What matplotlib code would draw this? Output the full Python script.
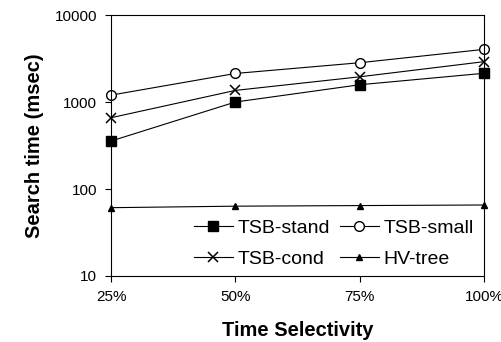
import matplotlib
matplotlib.use('Agg')
import matplotlib.pyplot as plt
import matplotlib.ticker as ticker

plt.rcParams['font.family'] = ['Liberation Sans', 'DejaVu Sans']

selectivity = ['25%', '50%', '75%', '100%']
tsb_stand = [356, 1000, 1580, 2140]
tsb_small = [1200, 2130, 2830, 4030]
tsb_cond = [660, 1360, 1950, 2910]
hv_tree = [61, 63.5, 64.5, 65.5]

fig = plt.figure(figsize=(5.01, 3.42), dpi=100)
ax = fig.add_axes([0.2216, 0.193, 0.7444, 0.763])

x = range(len(selectivity))
ax.plot(x, tsb_stand, color='black', linewidth=0.8, marker='s', markersize=7,
        markerfacecolor='black', label='TSB-stand', clip_on=False)
ax.plot(x, tsb_small, color='black', linewidth=0.8, marker='o', markersize=7,
        markerfacecolor='white', label='TSB-small', clip_on=False)
ax.plot(x, tsb_cond, color='black', linewidth=0.8, marker='x', markersize=7,
        markeredgewidth=1.1, label='TSB-cond', clip_on=False)
ax.plot(x, hv_tree, color='black', linewidth=0.8, marker='^', markersize=4.5,
        label='HV-tree', clip_on=False)

ax.set_yscale('log')
ax.set_ylim(10, 10000)
ax.set_xlim(0, 3)
ax.yaxis.set_major_locator(ticker.LogLocator(base=10))
ax.yaxis.set_minor_locator(ticker.NullLocator())
ax.yaxis.set_major_formatter(ticker.FuncFormatter(lambda v, p: '%d' % v))
ax.set_xticks(list(x))
ax.set_xticklabels(selectivity)

for s in ax.spines.values():
    s.set_linewidth(0.8)
ax.tick_params(axis='both', direction='out', length=4, width=0.8, labelsize=11,
               colors='black', pad=6)

ax.set_xlabel('Time Selectivity', fontsize=14.5, fontweight='bold', labelpad=12)
ax.set_ylabel('Search time (msec)', fontsize=14.5, fontweight='bold', labelpad=8)

handles, labels = ax.get_legend_handles_labels()
order = [0, 2, 1, 3]
ax.legend([handles[i] for i in order], [labels[i] for i in order], ncol=2,
          frameon=False, fontsize=14, loc='lower right',
          bbox_to_anchor=(1.02, -0.035), handlelength=2.0, handletextpad=0.25,
          columnspacing=0.5, labelspacing=0.68)

fig.savefig('out.png', dpi=100)
